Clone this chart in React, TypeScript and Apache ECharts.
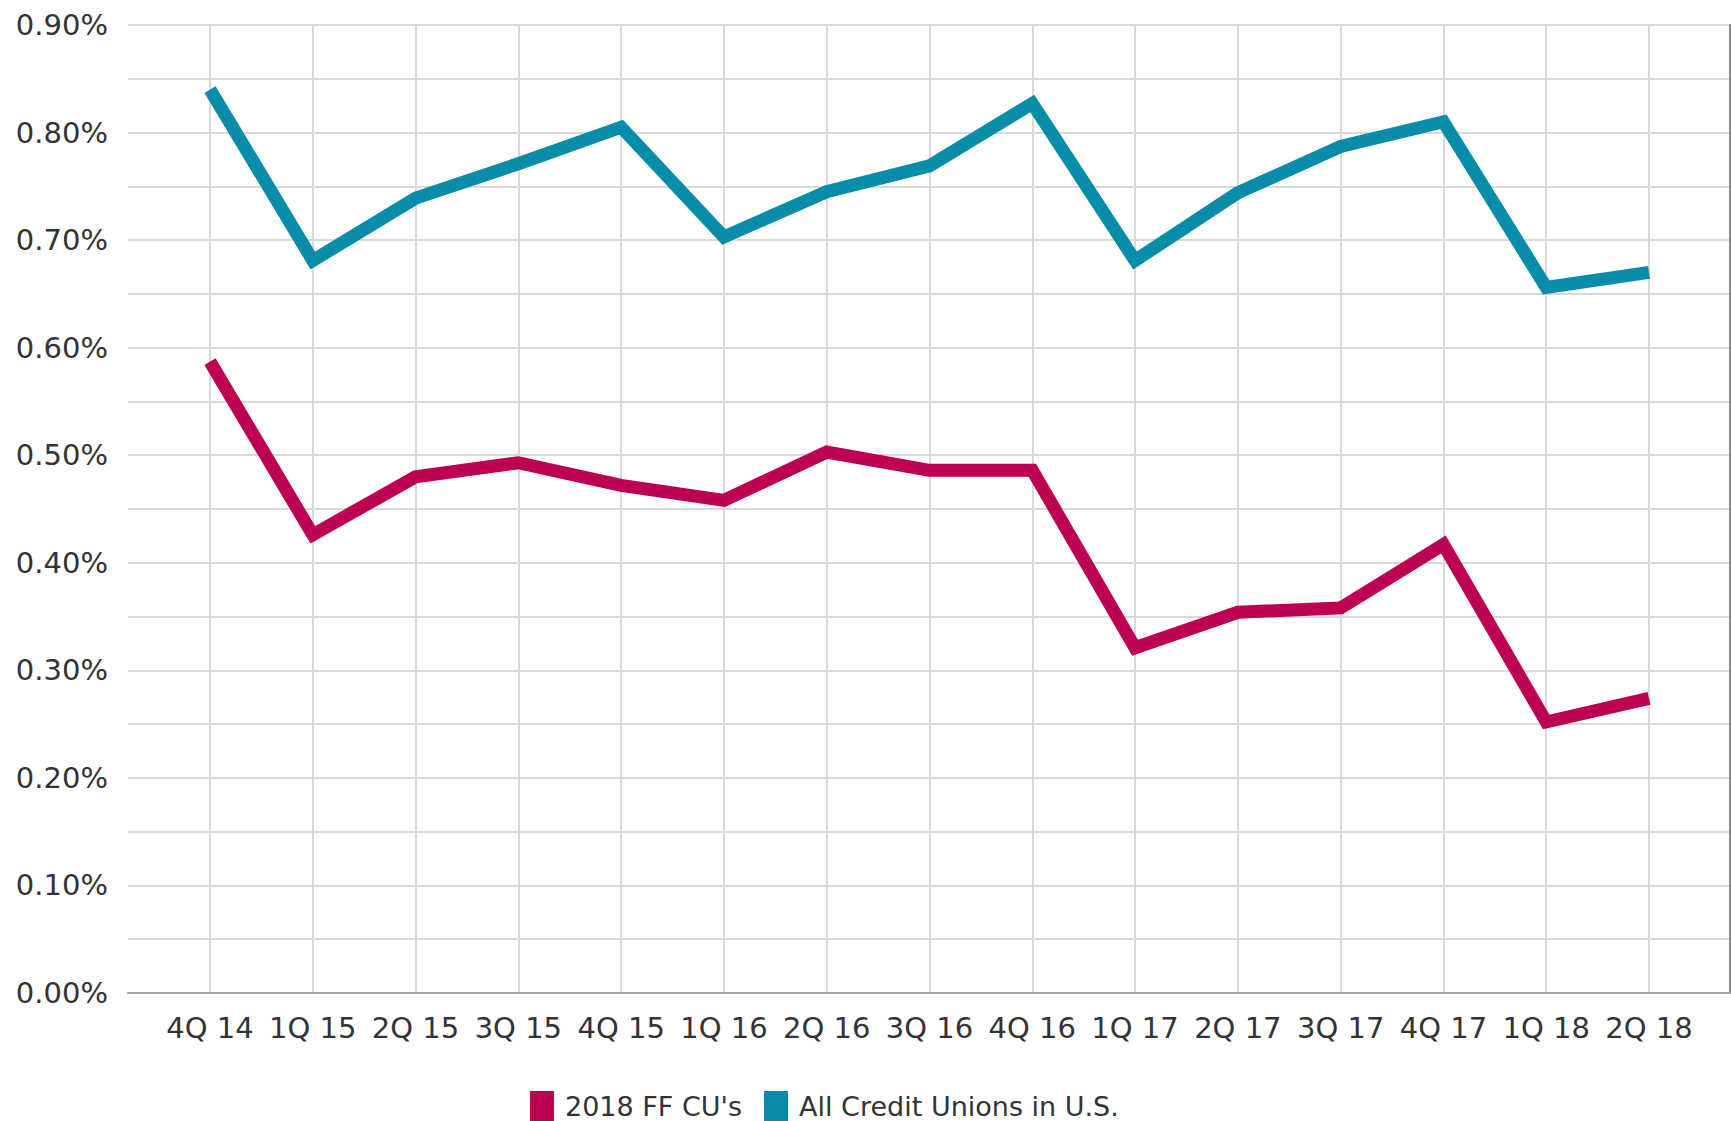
import React, { useEffect, useRef } from "react";
import * as echarts from "echarts";

const quarters = ["4Q 14", "1Q 15", "2Q 15", "3Q 15", "4Q 15", "1Q 16", "2Q 16", "3Q 16", "4Q 16", "1Q 17", "2Q 17", "3Q 17", "4Q 17", "1Q 18", "2Q 18"];
const ffCUs = [0.587, 0.426, 0.48, 0.493, 0.472, 0.458, 0.503, 0.486, 0.486, 0.321, 0.354, 0.358, 0.417, 0.252, 0.274];
const allCUs = [0.84, 0.681, 0.739, 0.771, 0.805, 0.703, 0.745, 0.769, 0.827, 0.681, 0.744, 0.787, 0.81, 0.656, 0.67];
const seriesNames = ["2018 FF CU's", "All Credit Unions in U.S."];
const colors = ["#BD0052", "#078DA9"];

const FONT = "DejaVu Sans";

export default function App() {
  const ref = useRef<HTMLDivElement>(null);
  useEffect(() => {
    document.body.style.margin = "0";
    const chart = echarts.init(ref.current!, null, { renderer: "svg" });
    const gridLine = { lineStyle: { color: "#d9d9d9", width: 2 } };
    chart.setOption({
      animation: false,
      backgroundColor: "#ffffff",
      textStyle: { fontFamily: FONT },
      grid: [
        { left: 128, right: 1, top: 25, bottom: 128 },
        { left: 210, right: 82, top: 25, bottom: 128 },
      ],
      xAxis: [
        {
          type: "value",
          gridIndex: 0,
          position: "top",
          min: 0,
          max: 1,
          axisLine: { show: true, lineStyle: { color: "#a6a6a6", width: 2 } },
          axisTick: { show: false },
          axisLabel: { show: false },
          splitLine: { show: false },
        },
        {
          type: "category",
          gridIndex: 1,
          data: quarters,
          boundaryGap: false,
          axisLine: { show: false },
          axisTick: { show: false },
          axisLabel: { fontSize: 29, color: "#333333", margin: 20, fontFamily: FONT, interval: 0 },
          splitLine: { show: true, ...gridLine },
        },
      ],
      yAxis: [
        {
          type: "value",
          gridIndex: 0,
          min: 0,
          max: 0.9,
          interval: 0.1,
          axisLine: { show: false },
          axisTick: { show: false },
          axisLabel: {
            fontSize: 29,
            color: "#333333",
            margin: 20,
            fontFamily: FONT,
            formatter: (v: number) => v.toFixed(2) + "%",
          },
          splitLine: { show: true, ...gridLine },
          minorTick: { show: false, splitNumber: 2 },
          minorSplitLine: { show: true, ...gridLine },
        },
        {
          type: "value",
          gridIndex: 1,
          min: 0,
          max: 0.9,
          show: false,
        },
        {
          type: "value",
          gridIndex: 0,
          position: "right",
          min: 0,
          max: 0.9,
          axisLine: { show: true, lineStyle: { color: "#8c8c8c", width: 2 } },
          axisTick: { show: false },
          axisLabel: { show: false },
          splitLine: { show: false },
        },
      ],
      legend: {
        left: 525,
        top: 1086,
        itemWidth: 24,
        itemHeight: 30,
        itemGap: 22,
        icon: "rect",
        data: seriesNames,
        textStyle: { fontSize: 27, lineHeight: 27, color: "#333333", fontFamily: FONT, padding: [0, 0, 0, 6] },
      },
      series: [
        {
          name: seriesNames[0],
          type: "line",
          xAxisIndex: 1,
          yAxisIndex: 1,
          data: ffCUs,
          symbol: "none",
          color: colors[0],
          lineStyle: { width: 13, color: colors[0], cap: "butt", join: "miter" },
        },
        {
          name: seriesNames[1],
          type: "line",
          xAxisIndex: 1,
          yAxisIndex: 1,
          data: allCUs,
          symbol: "none",
          color: colors[1],
          lineStyle: { width: 13, color: colors[1], cap: "butt", join: "miter" },
        },
      ],
    });
    return () => chart.dispose();
  }, []);
  return <div ref={ref} style={{ width: 1731, height: 1121 }} />;
}
